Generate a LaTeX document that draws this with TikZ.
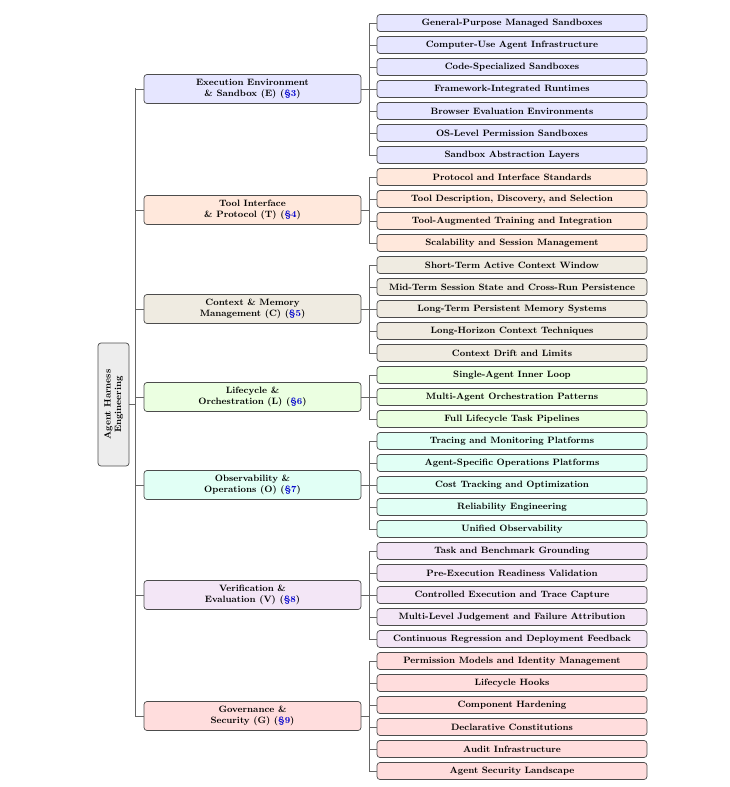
\documentclass[tikz,border=0pt]{standalone}
\begin{document}
\begin{tikzpicture}[x=1pt,y=-1pt,
  box/.style={draw=black!70,line width=0.7pt,rounded corners=3pt,font=\fontsize{9.2}{10.5}\selectfont\bfseries,align=center,inner sep=0pt},
  leaf/.style={box,minimum width=270pt,minimum height=17pt},
  cat/.style={box,minimum width=217pt,minimum height=29pt},
  ln/.style={draw=black!60,line width=0.8pt}]
\useasboundingbox (0,0) rectangle (729,787);
\definecolor{cE}{HTML}{E6E6FF}\definecolor{cT}{HTML}{FFE8DC}\definecolor{cC}{HTML}{EFEBE1}
\definecolor{cL}{HTML}{EBFFE1}\definecolor{cO}{HTML}{E1FFF5}\definecolor{cV}{HTML}{F3E6F6}\definecolor{cG}{HTML}{FFDDDD}
\node[box,fill=black!7,minimum width=31pt,minimum height=123pt] (root) at (113.5,404.5) {};
\node[rotate=90,font=\fontsize{9.2}{10.5}\selectfont\bfseries,align=center] (rt) at (root.center) {Agent Harness\\Engineering};
\coordinate (tt) at (135,88); \coordinate (tb) at (135,716);
\draw[ln] (tt) -- (tb);
\draw[ln] (root.east) -- (135,404.5);
\newcommand\mkcat[6]{%
  \node[cat,fill=#2] (#1) at (252.5,#3) {#4};
  \draw[ln] (135,#3) -- (#1.west);
  \coordinate (#1s) at (369,#3);
  \draw[ln] (#1.east) -- (#1s);
  \draw[ln] (369,{23+22*#5}) -- (369,{23+22*#6});
}
\mkcat{E}{cE}{89}{Execution Environment\\\& Sandbox (E) (\textcolor{blue!80!black}{\S3})}{0}{6}
\mkcat{T}{cT}{210}{Tool Interface\\\& Protocol (T) (\textcolor{blue!80!black}{\S4})}{7}{10}
\mkcat{C}{cC}{309}{Context \& Memory\\Management (C) (\textcolor{blue!80!black}{\S5})}{11}{15}
\mkcat{L}{cL}{397}{Lifecycle \&\\Orchestration (L) (\textcolor{blue!80!black}{\S6})}{16}{18}
\mkcat{O}{cO}{485}{Observability \&\\Operations (O) (\textcolor{blue!80!black}{\S7})}{19}{23}
\mkcat{V}{cV}{595}{Verification \&\\Evaluation (V) (\textcolor{blue!80!black}{\S8})}{24}{28}
\mkcat{G}{cG}{716}{Governance \&\\Security (G) (\textcolor{blue!80!black}{\S9})}{29}{34}
\foreach \c/\s [count=\i from 0] in {
 cE/General-Purpose Managed Sandboxes,cE/Computer-Use Agent Infrastructure,cE/Code-Specialized Sandboxes,cE/Framework-Integrated Runtimes,cE/Browser Evaluation Environments,cE/OS-Level Permission Sandboxes,cE/Sandbox Abstraction Layers,
 cT/Protocol and Interface Standards,cT/{Tool Description, Discovery, and Selection},cT/Tool-Augmented Training and Integration,cT/Scalability and Session Management,
 cC/Short-Term Active Context Window,cC/Mid-Term Session State and Cross-Run Persistence,cC/Long-Term Persistent Memory Systems,cC/Long-Horizon Context Techniques,cC/Context Drift and Limits,
 cL/Single-Agent Inner Loop,cL/Multi-Agent Orchestration Patterns,cL/Full Lifecycle Task Pipelines,
 cO/Tracing and Monitoring Platforms,cO/Agent-Specific Operations Platforms,cO/Cost Tracking and Optimization,cO/Reliability Engineering,cO/Unified Observability,
 cV/Task and Benchmark Grounding,cV/Pre-Execution Readiness Validation,cV/Controlled Execution and Trace Capture,cV/Multi-Level Judgement and Failure Attribution,cV/Continuous Regression and Deployment Feedback,
 cG/Permission Models and Identity Management,cG/Lifecycle Hooks,cG/Component Hardening,cG/Declarative Constitutions,cG/Audit Infrastructure,cG/Agent Security Landscape}{
  \pgfmathsetmacro\yy{23+22*\i}
  \node[leaf,fill=\c] (l\i) at (512,\yy) {\s};
  \draw[ln] (369,\yy) -- (l\i.west);
}
\end{tikzpicture}
\end{document}
